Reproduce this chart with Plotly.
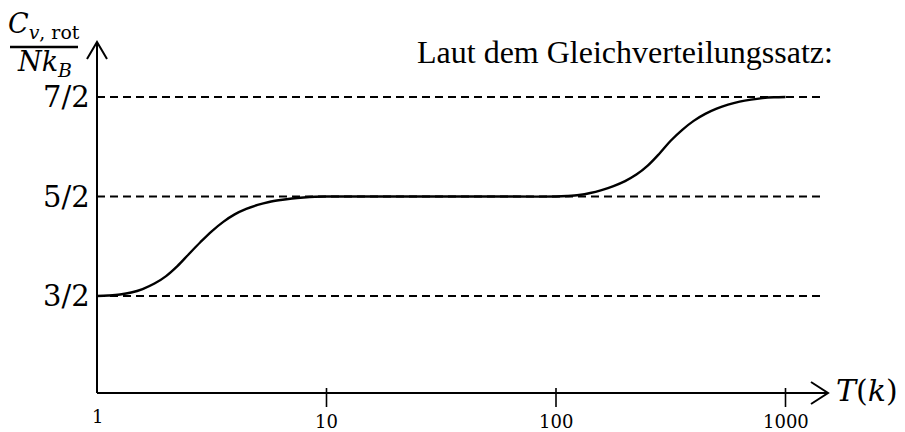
import math
import plotly.graph_objects as go

# ---------------- data ----------------
T_curve = [1, 1.12, 1.26, 1.41, 1.58, 1.78, 2.00, 2.24, 2.51, 2.82, 3.16, 3.55, 3.98, 4.47,
           5.01, 5.62, 6.31, 7.08, 7.94, 8.91, 10.0,
           20, 50,
           100, 112, 126, 141, 158, 178, 200, 224, 251, 282, 316, 355, 398, 447,
           501, 562, 631, 708, 794, 891, 1000]
cv_curve = [1.50, 1.505, 1.515, 1.535, 1.57, 1.625, 1.70, 1.80, 1.92, 2.04, 2.15, 2.245, 2.32, 2.375,
            2.415, 2.445, 2.465, 2.48, 2.49, 2.497, 2.50,
            2.50, 2.50,
            2.50, 2.505, 2.515, 2.535, 2.565, 2.605, 2.655, 2.72, 2.81, 2.93, 3.06, 3.17, 3.26, 3.33,
            3.383, 3.423, 3.453, 3.474, 3.489, 3.497, 3.50]
levels = [1.5, 2.5, 3.5]
level_labels = ["3/2", "5/2", "7/2"]
x_ticks = [1, 10, 100, 1000]
x_tick_labels = ["1", "10", "100", "1000"]
title_text = "Laut dem Gleichverteilungssatz:"

# ---------------- geometry (pixel mapping of the canvas) ----------------
W, H = 905, 432
X_ORIGIN_PX = 97.0   # pixel column of T = 1
DECADE_PX = 229.5    # pixels per decade
Y_REF_PX = 97.0      # pixel row of 7/2
UNIT_PX = 99.5       # pixels per unit of C/NkB


def lx(px):
    return (px - X_ORIGIN_PX) / DECADE_PX


def vy(py):
    return 3.5 - (py - Y_REF_PX) / UNIT_PX


def tx(px):
    return 10 ** lx(px)


BLACK = "#000000"
MATH_FONT = "DejaVu Serif"
TEXT_FONT = "Liberation Serif"

fig = go.Figure()


def seg(xs, ys, width=2.0, dash=None):
    fig.add_trace(go.Scatter(x=xs, y=ys, mode="lines", hoverinfo="skip",
                             line=dict(color=BLACK, width=width, dash=dash)))


# dashed reference levels
x_axis_end = tx(828)
dash_end = tx(822)
for lv in levels:
    seg([1, dash_end], [lv, lv], width=1.8, dash="8px,5px")

# curve
fig.add_trace(go.Scatter(x=T_curve, y=cv_curve, mode="lines", hoverinfo="skip",
                         line=dict(color=BLACK, width=2.4, shape="spline", smoothing=1.0)))

# axes
y_axis_v = vy(393)
seg([1, x_axis_end], [y_axis_v, y_axis_v], width=2)
seg([1, 1], [y_axis_v, vy(42)], width=2)
# arrow heads (open chevrons)
seg([tx(87), 1, tx(107)], [vy(59), vy(42), vy(59)], width=2)
seg([tx(811), x_axis_end, tx(811)], [vy(382), y_axis_v, vy(404)], width=2)

# ticks
for t in x_ticks[1:]:
    seg([t, t], [vy(388), vy(407)], width=1.6)

# fraction bar of y label
seg([tx(10), tx(78)], [vy(47), vy(47)], width=2.5)

ann = []
for t, lab in zip(x_ticks, x_tick_labels):
    ann.append(dict(x=math.log10(t), y=vy(416 if t == 1 else 421), text=lab,
                    showarrow=False, xanchor="center", yanchor="middle",
                    font=dict(family=MATH_FONT, size=18, color=BLACK)))
for lv, lab in zip(levels, level_labels):
    ann.append(dict(x=lx(92), y=lv, text=lab, showarrow=False,
                    xanchor="right", yanchor="middle",
                    font=dict(family=MATH_FONT, size=29, color=BLACK)))
ann.append(dict(x=lx(415), y=vy(52), text=title_text, showarrow=False,
                xanchor="left", yanchor="middle",
                font=dict(family=TEXT_FONT, size=32, color=BLACK)))
ann.append(dict(x=lx(834), y=vy(390), text="<i>T</i>(<i>k</i>)", showarrow=False,
                xanchor="left", yanchor="middle",
                font=dict(family=MATH_FONT, size=30, color=BLACK)))
ann.append(dict(x=lx(44), y=vy(25), text="<i>C</i><sub><i>v</i>, rot</sub>", showarrow=False,
                xanchor="center", yanchor="middle",
                font=dict(family=MATH_FONT, size=27, color=BLACK)))
ann.append(dict(x=lx(44), y=vy(63), text="<i>Nk</i><sub><i>B</i></sub>", showarrow=False,
                xanchor="center", yanchor="middle",
                font=dict(family=MATH_FONT, size=27, color=BLACK)))

fig.update_layout(
    width=W, height=H,
    margin=dict(l=0, r=0, t=0, b=0),
    paper_bgcolor="white", plot_bgcolor="white",
    showlegend=False,
    xaxis=dict(type="log", range=[lx(0), lx(W)], visible=False, fixedrange=True),
    yaxis=dict(range=[vy(H), vy(0)], visible=False, fixedrange=True),
    annotations=ann,
)

fig.write_html("out.html", config={"displayModeBar": False},
               post_script="document.body.style.margin='0px';")
